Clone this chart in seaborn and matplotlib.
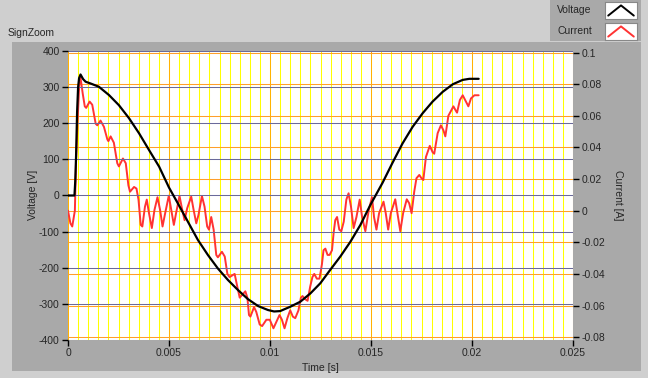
import numpy as np
import pandas as pd
import seaborn as sns
import matplotlib
matplotlib.use('Agg')
import matplotlib.pyplot as plt
from matplotlib.patches import Rectangle
from matplotlib.ticker import MultipleLocator, FuncFormatter

# voltage trace (time in s, volts)
time_v = [0, 0.00032, 0.00036, 0.0004, 0.00045, 0.0005, 0.00055, 0.00062, 0.00075, 0.00087,
          0.00112, 0.00153, 0.00203, 0.00252, 0.00302, 0.00352, 0.00401, 0.00451, 0.005, 0.00544,
          0.00593, 0.00643, 0.00693, 0.00742, 0.00792, 0.00842, 0.00891, 0.00941, 0.0099, 0.0102,
          0.0105, 0.011, 0.0115, 0.012, 0.01249, 0.01298, 0.01348, 0.01398, 0.01447, 0.01497,
          0.01557, 0.01606, 0.01656, 0.01706, 0.01756, 0.01805, 0.01855, 0.01905, 0.01954, 0.01987,
          0.02033]
voltage = [0, 0, 40, 110, 230, 300, 325, 335, 322, 315,
           310, 301, 278, 250, 214, 172, 126, 80, 22, -22,
           -72, -123, -165, -202, -234, -262, -287, -306, -317, -321,
           -320, -308, -294, -271, -243, -206, -169, -128, -82, -26,
           35, 90, 144, 190, 228, 260, 287, 308, 320, 323,
           323]

# current trace (time in s, amps)
time_i = [0, 0.00012, 0.00021, 0.00029, 0.00034, 0.0004, 0.0005, 0.00057, 0.00062, 0.00073,
          0.00083, 0.0009, 0.00107, 0.0012, 0.00137, 0.00145, 0.00161, 0.00178, 0.00195, 0.002,
          0.00211, 0.00227, 0.00244, 0.00252, 0.00272, 0.00286, 0.00299, 0.00307, 0.00327, 0.00339,
          0.00349, 0.0036, 0.00368, 0.00381, 0.0039, 0.00401, 0.00415, 0.00428, 0.00443, 0.00456,
          0.00468, 0.00481, 0.00499, 0.00514, 0.00524, 0.00535, 0.00552, 0.00564, 0.00577, 0.0059,
          0.0061, 0.00622, 0.00635, 0.00646, 0.00663, 0.00676, 0.00689, 0.00698, 0.00709, 0.00721,
          0.00734, 0.00742, 0.00762, 0.00776, 0.00789, 0.008, 0.00825, 0.00838, 0.0085, 0.00878,
          0.00888, 0.00896, 0.00903, 0.00921, 0.00932, 0.00949, 0.00961, 0.00982, 0.00999, 0.01017,
          0.01047, 0.01059, 0.01072, 0.01086, 0.011, 0.01113, 0.01125, 0.01141, 0.01153, 0.01161,
          0.01174, 0.01186, 0.01199, 0.0121, 0.01219, 0.01232, 0.01245, 0.01257, 0.01265, 0.01274,
          0.01285, 0.01295, 0.01307, 0.01315, 0.01323, 0.01332, 0.01343, 0.01353, 0.01365, 0.01378,
          0.01389, 0.01401, 0.01414, 0.01428, 0.01444, 0.01456, 0.01472, 0.01489, 0.01505, 0.01515,
          0.01527, 0.0154, 0.01562, 0.01573, 0.01585, 0.01598, 0.0162, 0.01631, 0.01645, 0.01659,
          0.01677, 0.01689, 0.01701, 0.01714, 0.01725, 0.01739, 0.0175, 0.01759, 0.01772, 0.01791,
          0.01805, 0.01813, 0.0183, 0.01846, 0.01858, 0.01868, 0.01883, 0.01908, 0.01921, 0.01926,
          0.0194, 0.01954, 0.0197, 0.01982, 0.01995, 0.02012, 0.02033]
current = [0, -0.008, -0.010, -0.004, 0.0, 0.032, 0.064, 0.083, 0.084, 0.074,
           0.066, 0.065, 0.069, 0.067, 0.055, 0.054, 0.057, 0.053, 0.045, 0.044,
           0.047, 0.043, 0.030, 0.028, 0.033, 0.030, 0.016, 0.012, 0.015, 0.014,
           0.007, -0.009, -0.010, 0.0025, 0.007, -0.0016, -0.011, 0.0004, 0.0085, 0.0004,
           -0.010, -0.0016, 0.0095, -0.0016, -0.009, -0.0016, 0.0093, 0.0015, -0.006, 0.0015,
           0.0089, 0.0004, -0.008, -0.0027, 0.0093, 0.0025, -0.010, -0.012, -0.004, -0.012,
           -0.028, -0.0295, -0.026, -0.029, -0.040, -0.042, -0.040, -0.048, -0.055, -0.051,
           -0.055, -0.066, -0.067, -0.061, -0.064, -0.072, -0.073, -0.069, -0.069, -0.0744,
           -0.066, -0.069, -0.0744, -0.068, -0.063, -0.067, -0.068, -0.063, -0.055, -0.054,
           -0.056, -0.057, -0.048, -0.042, -0.040, -0.043, -0.043, -0.034, -0.025, -0.024,
           -0.028, -0.028, -0.025, -0.014, -0.006, -0.004, -0.012, -0.013, -0.007, 0.007,
           0.011, 0.0025, -0.011, -0.004, 0.007, -0.004, -0.013, 0.0004, 0.0085, -0.004,
           -0.012, -0.0016, 0.0057, -0.0016, -0.012, -0.0016, 0.0072, -0.0016, -0.013, -0.0016,
           0.0072, 0.0047, -0.0016, 0.012, 0.0205, 0.0226, 0.0205, 0.0194, 0.034, 0.041,
           0.037, 0.036, 0.049, 0.054, 0.051, 0.047, 0.060, 0.066, 0.063, 0.062,
           0.070, 0.073, 0.069, 0.066, 0.071, 0.073, 0.073]

series_names = ['Voltage', 'Current']
series_colors = ['black', '#FF3333']

sns.set_style('ticks')
plt.rcParams['font.family'] = ['Liberation Sans', 'DejaVu Sans']
fs = 7.5
W, H = 648, 378

fig = plt.figure(figsize=(6.48, 3.78), dpi=100, facecolor='#CFCFCF')
plot_box = [68 / W, 1 - 340 / H, 505 / W, 289 / H]

# dark panel and legend box, kept under the axes
fig.patches.append(Rectangle((12 / W, 1 - 371 / H), 629 / W, 329 / H, transform=fig.transFigure,
                             facecolor='#A9A9A9', edgecolor='none', zorder=-5))
fig.patches.append(Rectangle((550 / W, 1 - 41 / H), 91 / W, 41 / H, transform=fig.transFigure,
                             facecolor='#A9A9A9', edgecolor='none', zorder=-5))

ax = fig.add_axes(plot_box)
ax2 = ax.twinx()

# current axis underneath: white area, vertical grid, orange h-grid, red line
ax.set_zorder(ax2.get_zorder() + 1)
ax.patch.set_visible(False)
ax2.patch.set_visible(True)
ax2.set_facecolor('white')
ax2.xaxis.set_visible(True)
ax2.set_axisbelow(True)
ax.set_axisbelow(True)

df_i = pd.DataFrame({'t': time_i, 'i': current})
df_v = pd.DataFrame({'t': time_v, 'v': voltage})
sns.lineplot(data=df_i, x='t', y='i', ax=ax2, color=series_colors[1], lw=1.4, estimator=None)
sns.lineplot(data=df_v, x='t', y='v', ax=ax, color=series_colors[0], lw=1.6, estimator=None)

ax.set_xlim(0, 0.025)
ax.set_ylim(-400, 400)
ax2.set_ylim(-0.0818, 0.101)

ax.xaxis.set_major_locator(MultipleLocator(0.005))
ax2.xaxis.set_minor_locator(MultipleLocator(0.0005))
ax.yaxis.set_major_locator(MultipleLocator(100))
ax2.yaxis.set_major_locator(MultipleLocator(0.02))

fmt = FuncFormatter(lambda v, p: f'{v:g}')
ax.xaxis.set_major_formatter(fmt)
ax.yaxis.set_major_formatter(fmt)
ax2.yaxis.set_major_formatter(fmt)

ax2.grid(axis='x', which='minor', color='#FFFF00', lw=0.75)
ax2.grid(axis='x', which='major', color='#FFB400', lw=0.75)
ax2.grid(axis='y', which='major', color='#FF9F2A', lw=0.75)
ax.grid(axis='y', which='major', color='#6A6A9A', lw=0.75)
ax.xaxis.grid(False, which='both')

ax2.tick_params(axis='x', which='both', bottom=False, top=False, labelbottom=False, labeltop=False)
ax.tick_params(axis='x', which='minor', bottom=False, top=False)
ax.tick_params(axis='both', which='major', length=4, width=1, color='black', pad=2,
               labelsize=fs, direction='out')
ax2.tick_params(axis='y', which='major', length=4, width=1, color='black', pad=2,
                labelsize=fs, direction='out')

for a in (ax, ax2):
    a.set_xlabel('')
    a.set_ylabel('')
    for s in a.spines.values():
        s.set_visible(False)

fig.text(33 / W, 1 - 195 / H, 'Voltage [V]', rotation=90, ha='center', va='center', fontsize=fs)
fig.text(618 / W, 1 - 195 / H, 'Current [A]', rotation=270, ha='center', va='center', fontsize=fs)
fig.text(320 / W, 1 - 368 / H, 'Time [s]', ha='center', va='center', fontsize=fs)
fig.text(8 / W, 1 - 33 / H, 'SignZoom', ha='left', va='center', fontsize=fs)

# legend: label text + white swatch with a caret-shaped line
for k, (name, col) in enumerate(zip(series_names, series_colors)):
    yc = 10 + 21 * k
    fig.text(557 / W, 1 - yc / H, name, ha='left', va='center', fontsize=fs)
    sw = fig.add_axes([605 / W, 1 - (yc + 9) / H, 32 / W, 17 / H])
    sw.set_facecolor('white')
    sw.plot([0.1, 0.5, 0.9], [0.2, 0.8, 0.2], color=col, lw=1.4)
    sw.set_xlim(0, 1)
    sw.set_ylim(0, 1)
    sw.set_xticks([])
    sw.set_yticks([])
    for s in sw.spines.values():
        s.set_color('#888888')
        s.set_linewidth(0.8)

fig.savefig('out.png', dpi=100, facecolor=fig.get_facecolor())
